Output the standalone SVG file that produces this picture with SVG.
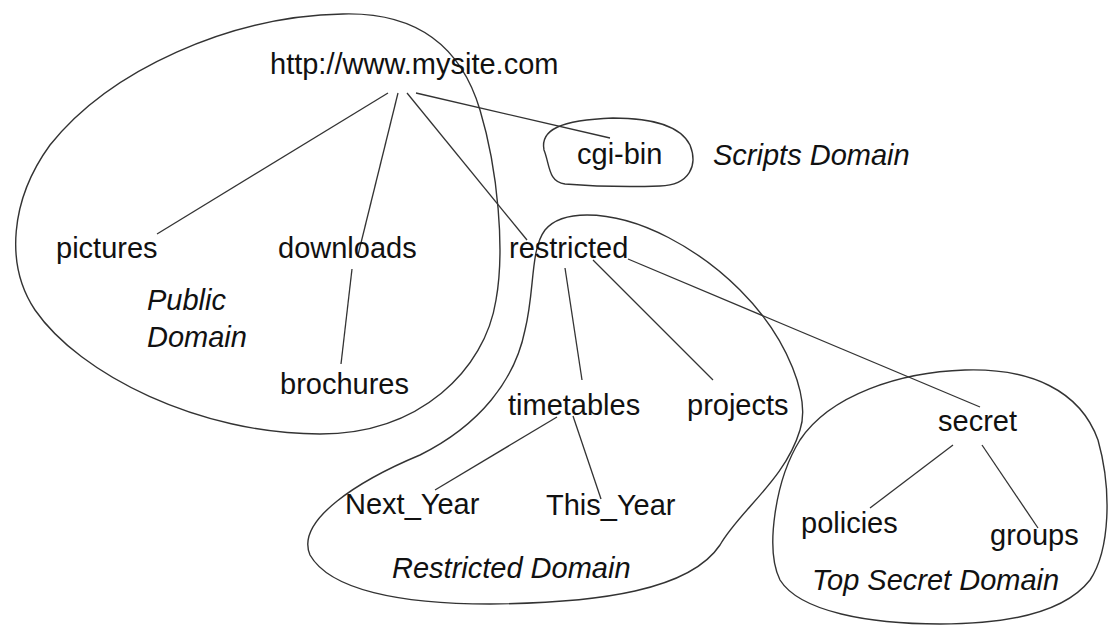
<svg xmlns="http://www.w3.org/2000/svg" width="1112" height="626" viewBox="0 0 1112 626">
<style>
.t{font-family:"Liberation Sans",Arial,sans-serif;font-size:29px;fill:#111}
.i{font-style:italic}
.b{fill:none;stroke:#333;stroke-width:1.4}
.c line{stroke:#333;stroke-width:1.3}
</style>
<rect width="1112" height="626" fill="#fff"/>
<g id="domains">
<path id="public-domain" class="b" d="M 343,14 C 420,12 462,50 480,110 C 498,170 505,250 496,300 C 485,370 420,434 320,434 C 200,434 80,375 35,310 C 5,265 10,200 50,145 C 110,70 230,16 343,14 Z"/>
<path id="scripts-domain" class="b" d="M 613,118 C 650,118 680,125 690,145 C 698,165 690,185 660,186 C 630,187 590,186 565,184 C 548,182 550,165 544,150 C 540,130 560,120 613,118 Z"/>
<path id="restricted-domain" class="b" d="M 587,215 C 640,215 700,250 740,290 C 790,340 810,400 800,430 C 785,480 740,510 720,545 C 690,590 600,603 490,604 C 400,604 330,590 310,555 C 295,520 360,480 420,455 C 480,425 515,380 525,330 C 535,290 530,250 545,230 C 555,218 570,215 587,215 Z"/>
<path id="topsecret-domain" class="b" d="M 965,370 C 1030,368 1080,390 1098,440 C 1112,490 1110,550 1090,580 C 1065,612 1010,624 940,624 C 870,624 800,612 780,580 C 765,550 775,480 800,440 C 830,395 900,372 965,370 Z"/>
</g>
<g id="connectors" class="c">
<line x1="388" y1="93" x2="157" y2="234"/>
<line x1="398" y1="93" x2="358" y2="255"/>
<line x1="407" y1="93" x2="527" y2="240"/>
<line x1="416" y1="93" x2="610" y2="138"/>
<line x1="352" y1="269" x2="341" y2="364"/>
<line x1="565" y1="268" x2="582" y2="380"/>
<line x1="593" y1="260" x2="713" y2="380"/>
<line x1="628" y1="259" x2="980" y2="407"/>
<line x1="557" y1="417" x2="435" y2="490"/>
<line x1="573" y1="416" x2="601" y2="499"/>
<line x1="953" y1="445" x2="870" y2="508"/>
<line x1="982" y1="445" x2="1038" y2="528"/>
</g>
<g id="n-root"><text class="t" x="270" y="74">http://www.mysite.com</text></g>
<g id="n-cgibin"><text class="t" x="577" y="164">cgi-bin</text></g>
<g id="n-pictures"><text class="t" x="56" y="258">pictures</text></g>
<g id="n-downloads"><text class="t" x="278" y="258">downloads</text></g>
<g id="n-restricted"><text class="t" x="509" y="258">restricted</text></g>
<g id="n-brochures"><text class="t" x="280" y="394">brochures</text></g>
<g id="n-timetables"><text class="t" x="508" y="415">timetables</text></g>
<g id="n-projects"><text class="t" x="687" y="415">projects</text></g>
<g id="n-secret"><text class="t" x="938" y="431">secret</text></g>
<g id="n-nextyear"><text class="t" x="345" y="514">Next_Year</text></g>
<g id="n-thisyear"><text class="t" x="546" y="515">This_Year</text></g>
<g id="n-policies"><text class="t" x="801" y="533">policies</text></g>
<g id="n-groups"><text class="t" x="990" y="545">groups</text></g>
<g id="labels">
<text class="t i" x="713" y="165">Scripts Domain</text>
<text class="t i" x="147" y="310">Public</text>
<text class="t i" x="147" y="347">Domain</text>
<text class="t i" x="392" y="578">Restricted Domain</text>
<text class="t i" x="812" y="590">Top Secret Domain</text>
</g>
</svg>
